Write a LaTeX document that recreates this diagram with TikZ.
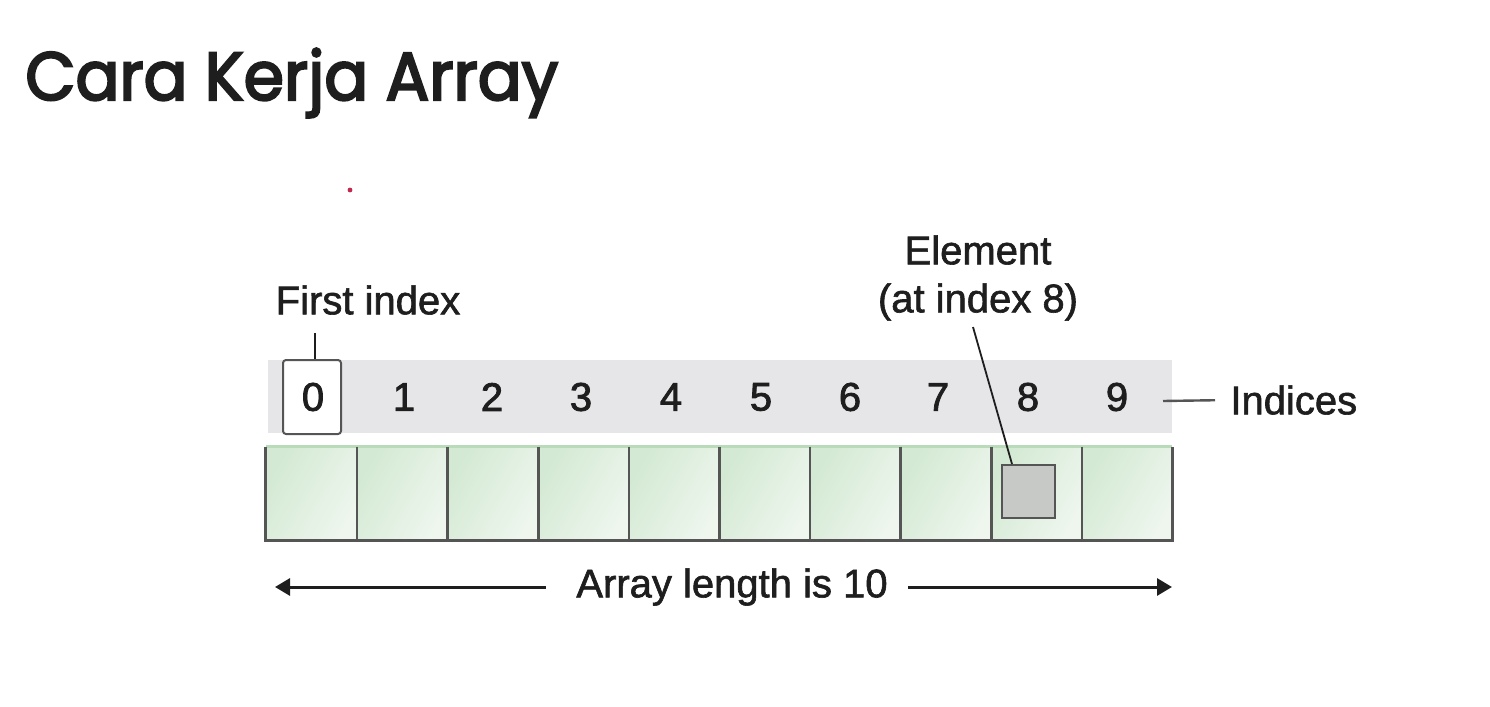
\documentclass[tikz,border=0pt]{standalone}
\usepackage{fontspec}
\setmainfont{Liberation Sans}
\newfontfamily\titlefont{Poppins}[FakeStretch=0.955]
\usetikzlibrary{arrows.meta,calc}
\newcommand\heavytext[2]{\special{pdf:code 2 Tr #1 w}#2\special{pdf:code 0 Tr 0.4 w}}
\definecolor{ink}{HTML}{1E1E1E}
\definecolor{band}{HTML}{E6E6E8}
\definecolor{cellA}{HTML}{D3E9D3}
\definecolor{cellB}{HTML}{EEF6EE}
\definecolor{edge}{HTML}{555555}
\definecolor{topedge}{HTML}{B9DBB9}
\definecolor{elemfill}{HTML}{C6C9C6}
\definecolor{dot}{HTML}{C2284C}
\tikzset{
  lbl/.style={font=\fontsize{20}{24}\selectfont, text=ink, inner sep=0pt},
  digit/.style={font=\fontsize{20}{24}\selectfont, text=ink, inner sep=0pt},
  cellbox/.style={minimum width=45.3pt, minimum height=46.5pt, inner sep=0pt,
    shading=axis, left color=cellA, right color=cellB, shading angle=60},
  divider/.style={draw=edge, line width=1.3pt},
  connector/.style={draw=ink, line width=0.9pt},
  lenarrow/.style={draw=ink, line width=1.5pt, -{Triangle[length=7.5pt,width=8.5pt]}}
}
\begin{document}
\begin{tikzpicture}[x=0.5pt,y=-0.5pt]
\useasboundingbox (0,0) rectangle (1490,707);
% title
\node[anchor=base west, inner sep=0pt, text=ink, font=\titlefont\fontsize{34}{40}\selectfont] (title) at (25,100) {\heavytext{1.1}{Cara Kerja Array}};
% small dot
\fill[dot] (350,190) circle (1.2pt);
% index band
\node[fill=band, minimum width=452pt, minimum height=36.5pt, inner sep=0pt] (band) at (720,396.5) {};
% box around 0
\node[draw=edge, fill=white, line width=1pt, rounded corners=1.5pt, minimum width=29pt, minimum height=37pt, inner sep=0pt] (box0) at (312,397) {};
% digits
\foreach \i/\x in {0/313,1/404,2/492,3/581,4/671,5/761,6/850,7/938,8/1028,9/1117}{
  \node[digit] (d\i) at (\x,397) {\heavytext{0.4}{\i}};
}
% cells
\foreach \i in {0,...,9}{
  \node[cellbox] (c\i) at ({266+90.6*(\i+0.5)},493.5) {};
}
\draw[draw=topedge, line width=1.3pt] (c0.north west) -- (c9.north east);
\draw[divider] (c0.north west) -- (c0.south west) -- (c9.south east) -- (c9.north east);
\foreach \i in {0,...,8}{
  \draw[divider] (c\i.north east) -- (c\i.south east);
}
% element square
\node[draw=edge, fill=elemfill, line width=1pt, minimum width=26.5pt, minimum height=26.5pt, inner sep=0pt] (sq) at (1028.5,491.5) {};
% labels
\node[lbl] (elem1) at (978,250) {\heavytext{0.3}{Element}};
\node[lbl] (elem2) at (978,302) {\heavytext{0.3}{(at index 8)}};
\coordinate (elemstart) at (973,327);
\draw[connector] (elemstart) -- ([xshift=5.5pt]sq.north west);
\node[lbl] (first) at (368,300) {\heavytext{0.3}{First index}};
\coordinate (firststart) at (315,333);
\draw[connector] (firststart) -- (firststart |- box0.north);
\node[lbl, anchor=west] (indices) at (1230,400) {\heavytext{0.3}{Indices}};
\coordinate (idxstart) at (1163,401);
\draw[connector, draw=edge, line width=1.2pt, shorten >=7.5pt] (idxstart) -- (indices.west);
% length arrow
\node[lbl] (len) at (732,587) {\heavytext{0.3}{Array length is 10}};
\coordinate (lenL) at (275,587);
\coordinate (lenR) at (1172,587);
\draw[lenarrow, shorten <=15pt] (len.west) -- (lenL);
\draw[lenarrow, shorten <=10pt] (len.east) -- (lenR);
\end{tikzpicture}
\end{document}
